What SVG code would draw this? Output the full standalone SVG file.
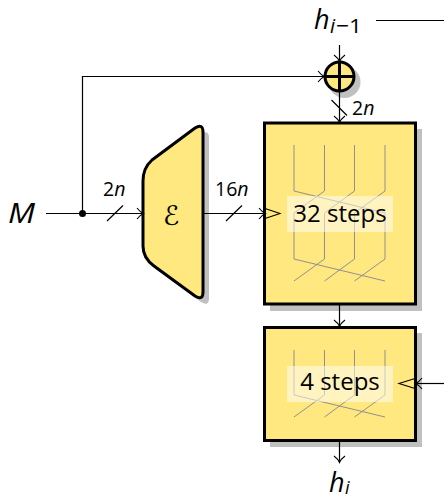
<svg xmlns="http://www.w3.org/2000/svg" width="444" height="499" viewBox="0 0 444 499">
<style>
.w{fill:none;stroke:#000;stroke-width:1.2}
.a{marker-end:url(#arr)}
.box{fill:#ffe880;stroke:#000;stroke-width:3}
.sh{fill:#c0c0c0;stroke:none}
.g{fill:none;stroke:#909090;stroke-width:1}
.lb{fill:#fff;fill-opacity:.5;stroke:none}
text{font-family:"Open Sans","DejaVu Sans",sans-serif;fill:#000}
.m{font-style:italic}
.st{font-size:24px;text-anchor:middle}
.s{font-size:19.500px}
.big{font-size:27px;font-style:italic}
.sub{font-size:20px}
</style>
<defs>
<marker id="arr" markerUnits="userSpaceOnUse" markerWidth="12" markerHeight="14" refX="9" refY="7" orient="auto"><path d="M3 1.500Q6 5.500 9.500 7Q6 8.500 3 12.500" fill="none" stroke="#000" stroke-width="1.100"/></marker>
</defs>
<g id="encoder">
<path class="sh" d="M158 166L201 134Q209 129 209 138V298Q209 307 201 302L160 272Q149 264 149 252V187Q149 174 158 166Z"/>
<path class="box" d="M152 160L195 128Q203 123 203 132V292Q203 301 195 296L154 266Q143 258 143 246V181Q143 168 152 160Z"/>
<text x="163" y="225" style="font-family:'DejaVu Sans',sans-serif;font-size:27px;font-style:italic">ℰ</text>
</g>
<g id="xor">
<circle class="sh" cx="344.500" cy="82" r="16"/>
<circle class="box" cx="339.500" cy="76.500" r="14.500"/>
<path d="M339.500 62V91M325 76.500H354" stroke="#000" stroke-width="3" fill="none"/>
</g>
<g id="steps32">
<rect class="sh" x="270" y="129" width="152" height="182"/>
<rect class="box" x="264.500" y="123" width="151" height="181"/>
<path class="g" d="M294 145V191L385 213M324.500 145V191L294 213M354.500 145V191L324.500 213M385 145V191L354.500 213M294 213V259L385 281M324.500 213V259L294 281M354.500 213V259L324.500 281M385 213V259L354.500 281"/>
<rect class="lb" x="287" y="196" width="106" height="36"/>
<path d="M265 208.500L280 213.500L265 218.500" fill="none" stroke="#000" stroke-width="1.100"/>
<text class="st" x="340" y="222">32 steps</text>
</g>
<g id="steps4">
<rect class="sh" x="270" y="333" width="152" height="114"/>
<rect class="box" x="264.500" y="327.500" width="151" height="113"/>
<path class="g" d="M294 350V395L385 417M324.500 350V395L294 417M354.500 350V395L324.500 417M385 350V395L354.500 417"/>
<rect class="lb" x="287" y="366" width="106" height="36"/>
<path d="M415 378.500L399 383.500L415 388.500" fill="none" stroke="#000" stroke-width="1.100"/>
<text class="st" x="340" y="390">4 steps</text>
</g>
<g id="connectors">
<path class="w a" d="M46 213.500H143"/>
<path class="w a" d="M82.500 213.500V76.500H324"/>
<path class="w a" d="M204 213.500H265"/>
<path class="w a" d="M339.500 45V61"/>
<path class="w a" d="M339.500 92V122"/>
<path class="w a" d="M339.500 305V326"/>
<path class="w a" d="M339.500 441V462"/>
<path class="w a" d="M444 383.500H416"/>
<path class="w" d="M376 20.500H444"/>
<path class="w" d="M107 221L123 205.500M226 221L242 205.500M331.500 100L347 115.500"/>
<circle cx="82.500" cy="213.500" r="3.500" fill="#000"/>
</g>
<g id="labels">
<text class="big" x="8" y="223" textLength="27" lengthAdjust="spacingAndGlyphs">M</text>
<text class="s" x="103" y="196">2<tspan class="m">n</tspan></text>
<text class="s" x="215" y="196">16<tspan class="m">n</tspan></text>
<text class="s" x="352" y="115">2<tspan class="m">n</tspan></text>
<text class="big" x="314" y="29">h</text>
<text class="sub m" x="330" y="33">i</text><text class="sub" x="336" y="33" textLength="26" lengthAdjust="spacingAndGlyphs">−1</text>
<text class="big" x="329" y="492">h</text>
<text class="m" x="345" y="494" style="font-size:18px">i</text>
</g>
</svg>
